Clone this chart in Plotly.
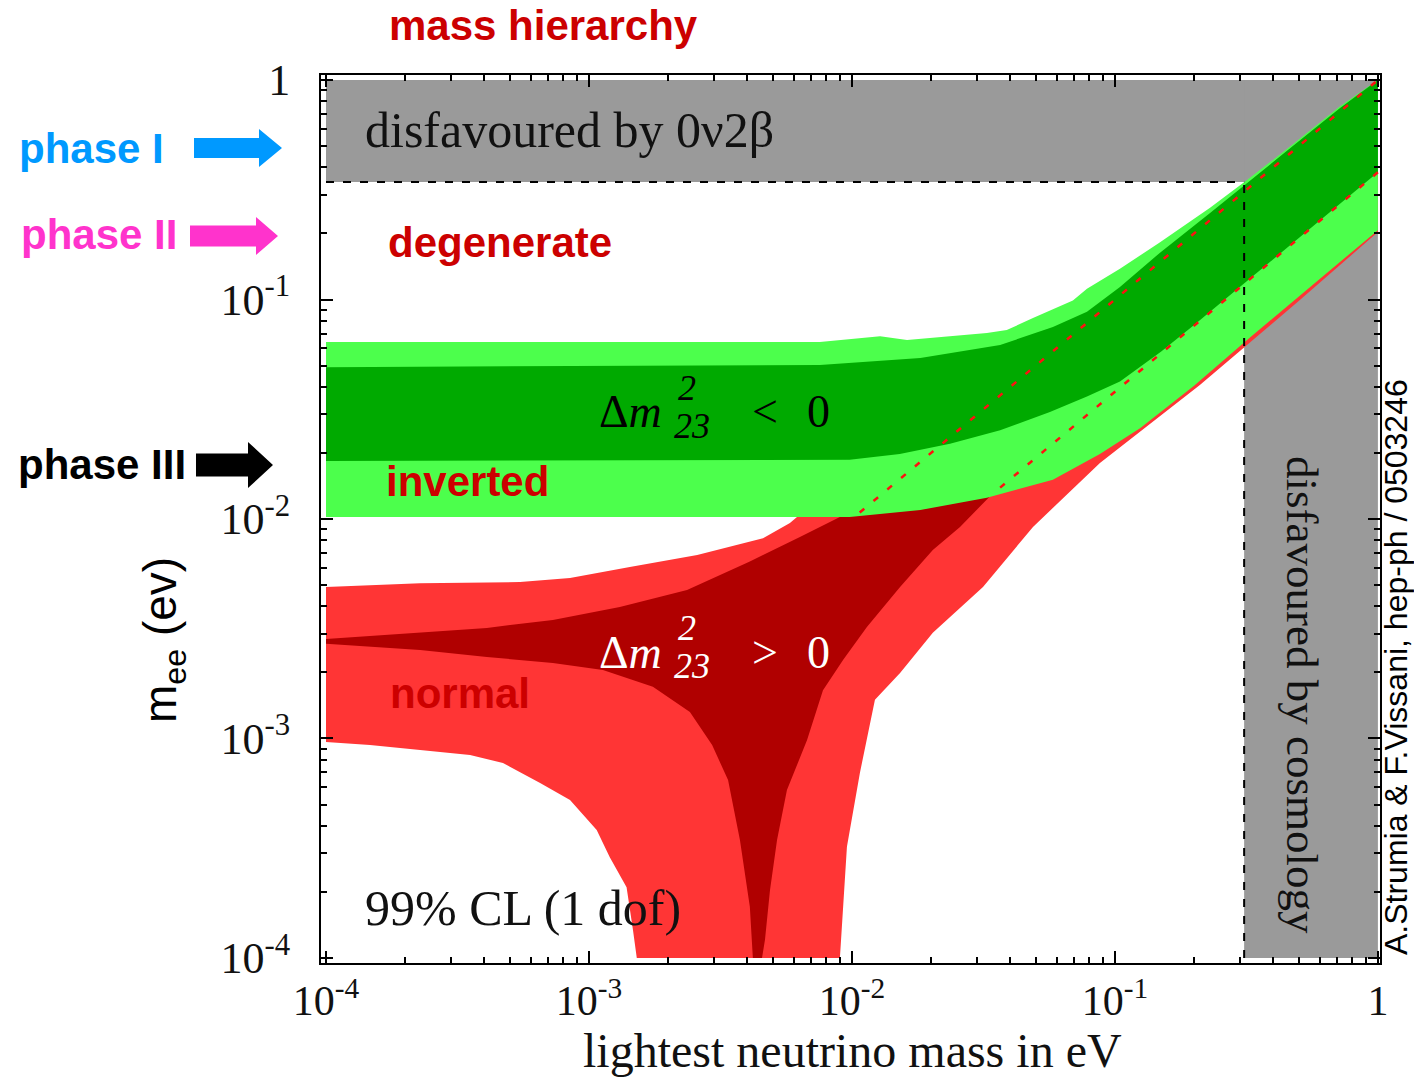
import plotly.graph_objects as go

# ---------------- data (lightest neutrino mass m [eV], m_ee [eV]) ----------------
# inverted hierarchy, outer (light green) band
lg_top_m   = [1e-4, 0.00755, 0.0128, 0.0162, 0.0326, 0.0388, 0.0488, 0.0692, 0.0783, 0.1045, 0.148, 0.230, 0.318, 0.475, 0.718, 1.0]
lg_top_mee = [0.064, 0.064, 0.068, 0.0654, 0.0704, 0.0726, 0.0824, 0.099, 0.112, 0.138, 0.182, 0.262, 0.35, 0.51, 0.76, 1.0]
lg_bot_m   = [1e-4, 0.0098, 0.0182, 0.0326, 0.0581, 0.0877, 0.125, 0.2, 0.318, 0.5, 1.0]
lg_bot_mee = [0.0102, 0.0102, 0.011, 0.0125, 0.0151, 0.0198, 0.026, 0.0405, 0.0654, 0.103, 0.207]
# inverted hierarchy, inner (dark green) band
dg_top_m   = [1e-4, 0.00755, 0.0182, 0.0366, 0.0581, 0.0783, 0.1045, 0.148, 0.230, 0.318, 0.475, 0.718, 1.0]
dg_top_mee = [0.0492, 0.0503, 0.0541, 0.0621, 0.0749, 0.088, 0.114, 0.163, 0.248, 0.338, 0.5, 0.745, 1.0]
dg_bot_m   = [1e-4, 0.0098, 0.0152, 0.0236, 0.0366, 0.0566, 0.0783, 0.1045, 0.15, 0.2, 0.5, 1.0]
dg_bot_mee = [0.0184, 0.0186, 0.0198, 0.022, 0.0254, 0.0307, 0.0362, 0.0423, 0.058, 0.0765, 0.19, 0.38]

# normal hierarchy, outer (light red) region
lr_top_m     = [1e-4, 2.28e-4, 5.47e-4, 8.47e-4, 1.43e-3, 2.58e-3, 4.59e-3, 5.81e-3, 6.18e-3, 0.0107, 1.0]
lr_top_mee   = [0.0049, 0.0051, 0.00516, 0.00538, 0.00604, 0.00685, 0.00818, 0.00959, 0.0102, 0.0107, 1.0]
lr_right_m   = [1.0, 0.505, 0.2104, 0.0877, 0.0488, 0.0315, 0.0203, 0.01524, 0.01223, 0.01072, 9.57e-3, 9.0e-3]
lr_right_mee = [0.203, 0.0995, 0.0408, 0.018, 0.0092, 0.0049, 0.00303, 0.00199, 0.0015, 6.97e-4, 3.21e-4, 1e-4]
lr_left_m    = [1.52e-3, 1.47e-3, 1.39e-3, 1.20e-3, 1.07e-3, 8.47e-4, 6.52e-4, 4.71e-4, 3.53e-4, 2.28e-4, 1.47e-4, 1e-4]
lr_left_mee  = [1e-4, 1.34e-4, 2.1e-4, 2.88e-4, 3.83e-4, 5.25e-4, 6.27e-4, 7.73e-4, 8.41e-4, 8.87e-4, 9.33e-4, 9.64e-4]
# normal hierarchy, inner (dark red) region
dr_top_m     = [1e-4, 2.28e-4, 4.09e-4, 7.29e-4, 1.31e-3, 2.36e-3, 4.09e-3, 6.34e-3, 9.0e-3, 0.0107, 1.0]
dr_top_mee   = [2.84e-3, 3.03e-3, 3.19e-3, 3.47e-3, 3.97e-3, 4.75e-3, 6.4e-3, 8.28e-3, 0.0102, 0.0107, 1.0]
dr_right_m   = [1.0, 0.1, 0.0335, 0.02576, 0.0203, 0.01524, 0.0114, 9.25e-3, 7.76e-3, 6.75e-3, 5.66e-3, 5.19e-3, 4.88e-3, 4.67e-3, 4.55e-3]
dr_right_mee = [0.38, 0.038, 0.0127, 9.2e-3, 7.22e-3, 4.9e-3, 3.22e-3, 2.28e-3, 1.66e-3, 9.84e-4, 5.82e-4, 3.45e-4, 2.04e-4, 1.21e-4, 1e-4]
dr_left_m    = [4.2e-3, 4.09e-3, 3.75e-3, 3.38e-3, 2.94e-3, 2.42e-3, 1.75e-3, 1.13e-3, 7.29e-4, 4.09e-4, 2.28e-4, 1e-4]
dr_left_mee  = [1e-4, 1.71e-4, 3.45e-4, 6.47e-4, 9.33e-4, 1.32e-3, 1.72e-3, 2.05e-3, 2.21e-3, 2.35e-3, 2.53e-3, 2.7e-3]

# m_ee = m and m_ee = 0.38 m guide lines
upper_dash_m, upper_dash_mee = [0.0107, 1.0], [0.0107, 1.0]
lower_dash_m, lower_dash_mee = [0.0366, 1.0], [0.0139, 0.38]

# excluded regions
bb_limit = 0.343       # 0nu2beta bound on m_ee
cosmo_limit = 0.31     # cosmological bound on m
m_min, m_max = 1e-4, 1.0

tick_vals = [1e-4, 1e-3, 1e-2, 1e-1, 1]
tick_text = ["10<sup>-4</sup>", "10<sup>-3</sup>", "10<sup>-2</sup>", "10<sup>-1</sup>", "1"]
minor_vals = [k * 10.0 ** e for e in range(-4, 0) for k in range(2, 10)]

# ---------------- colours ----------------
C_LG, C_DG = "#4cff4c", "#00aa00"
C_LR, C_DR = "#ff3535", "#b00000"
C_GRAY = "#9a9a9a"
C_LABEL = "#cc0000"

fig = go.Figure()

def poly(xs, ys, color):
    fig.add_trace(go.Scatter(x=xs, y=ys, mode="lines", fill="toself", fillcolor=color,
                             line=dict(width=0, color=color), hoverinfo="skip", showlegend=False))

# gray excluded bands
poly([m_min, m_max, m_max, m_min], [bb_limit, bb_limit, m_max, m_max], C_GRAY)
poly([cosmo_limit, m_max, m_max, cosmo_limit], [m_min, m_min, m_max, m_max], C_GRAY)

# normal hierarchy
poly(lr_top_m + lr_right_m + lr_left_m, lr_top_mee + lr_right_mee + lr_left_mee, C_LR)
poly(dr_top_m + dr_right_m + dr_left_m, dr_top_mee + dr_right_mee + dr_left_mee, C_DR)
# inverted hierarchy
poly(lg_top_m + lg_bot_m[::-1], lg_top_mee + lg_bot_mee[::-1], C_LG)
poly(dg_top_m + dg_bot_m[::-1], dg_top_mee + dg_bot_mee[::-1], C_DG)

# red dashed guide lines
for xs, ys in [(upper_dash_m, upper_dash_mee), (lower_dash_m, lower_dash_mee)]:
    fig.add_trace(go.Scatter(x=xs, y=ys, mode="lines", hoverinfo="skip", showlegend=False,
                             line=dict(color="#ff1010", width=2.5, dash="6px,12px")))

# black dashed limits
fig.add_trace(go.Scatter(x=[m_min, cosmo_limit], y=[bb_limit, bb_limit], mode="lines", hoverinfo="skip",
                         showlegend=False, line=dict(color="black", width=2, dash="8px,9px")))
fig.add_trace(go.Scatter(x=[cosmo_limit, cosmo_limit], y=[m_min, bb_limit], mode="lines", hoverinfo="skip",
                         showlegend=False, line=dict(color="black", width=2, dash="8px,9px")))

# ---------------- layout ----------------
W, H = 1414, 1079
L, R, T, B = 321, 1380, 75, 963

def px(x):
    return (x - L) / (R - L)

def py(y):
    return (B - y) / (B - T)

SERIF = "Liberation Serif, Times New Roman, serif"
SANS = "Liberation Sans, Arial, sans-serif"

ann = []
def text(t, x, y, size, color="black", family=SANS, angle=0, xanchor="center", yanchor="middle"):
    ann.append(dict(text=t, x=px(x), y=py(y), xref="paper", yref="paper", showarrow=False,
                    font=dict(size=size, color=color, family=family), textangle=angle,
                    xanchor=xanchor, yanchor=yanchor))

text("<b>mass hierarchy</b>", 543, 25, 42, C_LABEL)
text("<b>degenerate</b>", 500, 243, 42, C_LABEL)
text("<b>inverted</b>", 467, 481, 42, C_LABEL)
text("<b>normal</b>", 460, 693, 42, C_LABEL)
text("<b>phase I</b>", 17, 148, 42, "#0099ff", xanchor="left")
text("<b>phase II</b>", 19, 234, 42, "#ff33cc", xanchor="left")
text("<b>phase III</b>", 16, 465, 42, "black", xanchor="left")

text("disfavoured by 0ν2β", 363, 130, 50, "#111111", SERIF, xanchor="left")
text("99% CL (1 dof)", 363, 908, 50, "#111111", SERIF, xanchor="left")
text("disfavoured by cosmology", 1302, 695, 45, "#111111", SERIF, angle=90)
text("A.Strumia & F.Vissani, hep-ph / 0503246", 1396, 667, 32, "black", SANS, angle=-90)
text("m<sub>ee</sub> (ev)", 163, 640, 46, "black", SANS, angle=-90)
text("lightest neutrino mass in eV", 852, 1050, 48, "#111111", SERIF)

# Delta m^2_23 labels with stacked indices
for yc, col, sign in [(412, "black", "&lt;"), (652, "white", "&gt;")]:
    text("Δ<i>m</i>", 597, yc, 46, col, SERIF, xanchor="left")
    text("<i>2</i>", 676, yc - 24, 36, col, SERIF, xanchor="left")
    text("<i>23</i>", 672, yc + 14, 36, col, SERIF, xanchor="left")
    text(sign, 750, yc, 46, col, SERIF, xanchor="left")
    text("0", 805, yc, 46, col, SERIF, xanchor="left")

fig.update_layout(annotations=ann)

# block arrows for the experimental phases
shapes = []
def block_arrow(x0, x_head, x_tip, yc, shaft_h, head_h, color):
    pts = [(x0, yc - shaft_h / 2), (x_head, yc - shaft_h / 2), (x_head, yc - head_h / 2), (x_tip, yc),
           (x_head, yc + head_h / 2), (x_head, yc + shaft_h / 2), (x0, yc + shaft_h / 2)]
    path = "M " + " L ".join(f"{px(a):.5f},{py(b):.5f}" for a, b in pts) + " Z"
    shapes.append(dict(type="path", path=path, xref="paper", yref="paper",
                       fillcolor=color, line=dict(width=0), layer="above"))

block_arrow(194, 259, 282, 148, 20, 38, "#0099ff")
block_arrow(190, 256, 278, 236, 21, 38, "#ff33cc")
block_arrow(196, 248, 273, 465, 23, 46, "black")
fig.update_layout(shapes=shapes)

axis_common = dict(type="log", tickmode="array", tickvals=tick_vals, ticktext=tick_text,
                   ticks="inside", ticklen=12, tickwidth=2, tickcolor="black",
                   showline=True, linecolor="black", linewidth=2, mirror="ticks",
                   showgrid=False, zeroline=False,
                   minor=dict(tickmode="array", tickvals=minor_vals, ticks="inside",
                              ticklen=6, tickwidth=1.5, tickcolor="black", showgrid=False))

fig.update_xaxes(**axis_common, range=[-4.019, 0.008], ticklabelstandoff=0,
                 tickfont=dict(family=SERIF, size=42, color="#111111"))
fig.update_yaxes(**axis_common, range=[-4.023, 0.023], ticklabelstandoff=20,
                 tickfont=dict(family=SERIF, size=44, color="#111111"))

fig.update_layout(width=W, height=H, margin=dict(l=L, r=W - R, t=T, b=H - B, pad=0),
                  paper_bgcolor="white", plot_bgcolor="white", showlegend=False)

fig.write_html("out.html", config={"displayModeBar": False},
               post_script="document.body.style.margin='0px';document.body.style.padding='0px';")
